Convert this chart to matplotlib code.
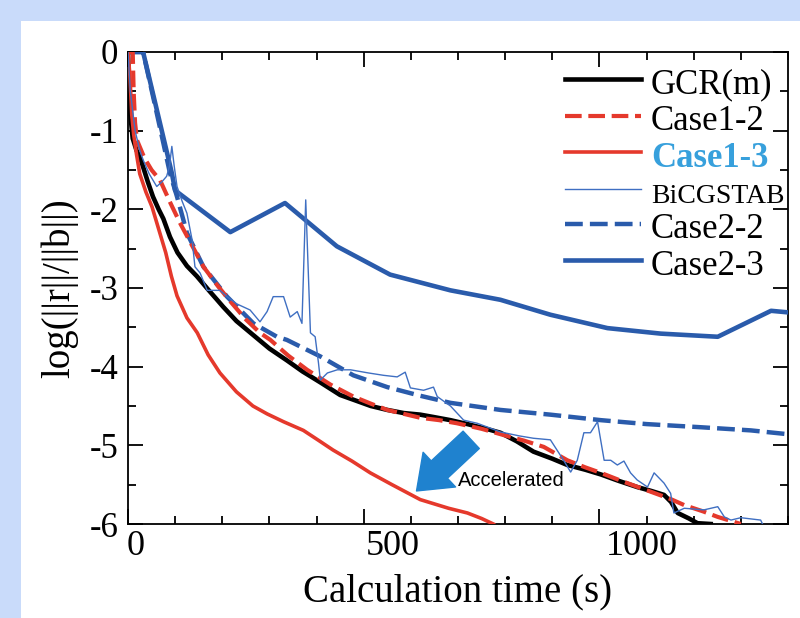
import matplotlib
matplotlib.use("Agg")
import matplotlib.pyplot as plt
from matplotlib.patches import Rectangle
from matplotlib.transforms import ScaledTranslation
from matplotlib.ticker import MultipleLocator

# ---- data (x: calculation time in s, y: log(||r||/||b||)) ----
gcr_x = [0, 2, 5, 10, 18, 25, 32, 42, 53, 65, 75, 89, 105, 125, 146, 170, 189, 202, 230, 266,
         300, 337, 370, 408, 450, 478, 515, 550, 585, 620, 648, 684, 720, 760, 790, 825, 860,
         900, 932, 970, 1003, 1040, 1080, 1110, 1137, 1152, 1166, 1190, 1208, 1236]
gcr_y = [0, -0.4, -0.8, -1.1, -1.25, -1.33, -1.46, -1.65, -1.84, -2.0, -2.12, -2.35, -2.55, -2.72,
         -2.85, -3.02, -3.15, -3.24, -3.42, -3.6, -3.77, -3.92, -4.06, -4.2, -4.36, -4.42, -4.5,
         -4.55, -4.59, -4.61, -4.64, -4.68, -4.73, -4.79, -4.84, -4.95, -5.08, -5.17, -5.25,
         -5.31, -5.37, -5.45, -5.53, -5.58, -5.63, -5.72, -5.86, -5.93, -5.99, -6.0]

case12_x = [0, 10, 12, 15, 19, 35, 50, 68, 90, 110, 135, 160, 190, 217, 250, 280, 302, 340, 380,
            430, 478, 515, 550, 585, 620, 660, 698, 750, 797, 840, 882, 932, 970, 1003, 1050,
            1109, 1150, 1180, 1220, 1251, 1300]
case12_y = [0, 0, -0.5, -0.9, -1.12, -1.35, -1.5, -1.63, -1.92, -2.17, -2.45, -2.73, -2.97, -3.17,
            -3.4, -3.57, -3.66, -3.86, -4.04, -4.23, -4.38, -4.47, -4.55, -4.6, -4.65, -4.68,
            -4.72, -4.79, -4.87, -4.94, -5.02, -5.19, -5.28, -5.35, -5.46, -5.59, -5.68, -5.76,
            -5.84, -5.91, -6.0]

case13_x = [0, 4, 8, 12, 18, 25, 38, 51, 65, 80, 92, 104, 125, 147, 170, 195, 230, 265, 295, 330,
            372, 405, 435, 475, 514, 560, 620, 680, 720, 750, 775]
case13_y = [0, -0.3, -0.8, -1.05, -1.3, -1.55, -1.78, -1.97, -2.25, -2.55, -2.85, -3.1, -3.38,
            -3.57, -3.85, -4.08, -4.32, -4.5, -4.6, -4.7, -4.81, -4.94, -5.06, -5.2, -5.35, -5.5,
            -5.69, -5.8, -5.86, -5.93, -6.0]

bicg_x = [0, 5, 15, 25, 32, 45, 61, 72, 82, 88, 93, 98, 104, 115, 125, 136, 142, 153, 168, 180,
          195, 210, 230, 259, 280, 295, 308, 330, 344, 359, 369, 377, 387, 397, 404, 408, 423,
          444, 472, 510, 542, 571, 588, 599, 627, 648, 656, 684, 712, 741, 790, 830, 860, 896,
          924, 939, 953, 967, 981, 996, 1010, 1024, 1038, 1052, 1066, 1080, 1102, 1116, 1137,
          1151, 1158, 1180, 1222, 1251, 1265, 1279, 1300, 1342, 1346]
bicg_y = [0, -0.5, -1.0, -1.25, -1.37, -1.55, -1.71, -1.65, -1.58, -1.45, -1.2, -1.45, -1.71,
          -1.9, -2.05, -2.39, -2.73, -2.81, -3.03, -3.03, -3.03, -3.11, -3.2, -3.28, -3.43, -3.3,
          -3.11, -3.11, -3.37, -3.3, -3.45, -1.88, -3.57, -3.62, -3.95, -4.17, -4.08, -4.04,
          -4.04, -4.08, -4.11, -4.13, -4.07, -4.27, -4.3, -4.26, -4.38, -4.5, -4.68, -4.72,
          -4.83, -4.88, -4.91, -4.93, -5.19, -5.34, -5.19, -4.84, -4.84, -4.70, -5.19, -5.19,
          -5.25, -5.2, -5.35, -5.44, -5.53, -5.35, -5.48, -5.61, -5.86, -5.80, -5.82, -5.78,
          -5.91, -5.95, -5.92, -5.95, -6.0]

case22_x = [0, 32, 60, 89, 104, 125, 160, 210, 266, 316, 337, 408, 478, 550, 620, 684, 790, 896,
            1003, 1100, 1215, 1321, 1402]
case22_y = [0, 0, -0.75, -1.54, -1.84, -2.3, -2.73, -3.11, -3.45, -3.62, -3.66, -3.87, -4.11,
            -4.26, -4.37, -4.46, -4.55, -4.61, -4.68, -4.73, -4.77, -4.81, -4.86]

case23_x = [0, 32, 93, 100, 217, 333, 443, 556, 684, 790, 896, 1017, 1130, 1251, 1364, 1400]
case23_y = [0, 0, -1.54, -1.76, -2.29, -1.92, -2.47, -2.83, -3.03, -3.15, -3.34, -3.51, -3.58,
            -3.62, -3.29, -3.31]

series_labels = ["GCR(m)", "Case1-2", "Case1-3", "BiCGSTAB", "Case2-2", "Case2-3"]
xtick_values = [0, 500, 1000]
xtick_labels = ["0", "500", "1000"]
ytick_values = [0, -1, -2, -3, -4, -5, -6]
ytick_labels = ["0", "-1", "-2", "-3", "-4", "-5", "-6"]
arrow_tail = (728, -4.93)
arrow_tip = (612, -5.58)

# ---- style ----
plt.rcParams["font.family"] = ["Liberation Serif", "DejaVu Serif"]
RED = "#e5392c"
BLUE = "#2a5bab"
THIN = "#3f6fc2"

fig = plt.figure(figsize=(8, 6.18), dpi=100, facecolor="#c9dbfa")
fig.add_artist(Rectangle((21 / 800, 0), 1, 1 - 21 / 618, transform=fig.transFigure,
                         facecolor="white", edgecolor="none", zorder=-5))

ax = fig.add_axes([0.16, 0.1521, 0.825, 0.7638])
ax.set_facecolor("white")

dash = (4, 1.6)
l_gcr, = ax.plot(gcr_x, gcr_y, color="black", lw=3.3, zorder=4, label=series_labels[0])
l_c12, = ax.plot(case12_x, case12_y, color=RED, lw=3.0, dashes=dash, zorder=5, label=series_labels[1])
l_c13, = ax.plot(case13_x, case13_y, color=RED, lw=2.6, zorder=5, label=series_labels[2])
l_bi, = ax.plot(bicg_x, bicg_y, color=THIN, lw=1.0, zorder=6, label=series_labels[3])
l_c22, = ax.plot(case22_x, case22_y, color=BLUE, lw=3.2, dashes=dash, zorder=3, label=series_labels[4])
l_c23, = ax.plot(case23_x, case23_y, color=BLUE, lw=3.3, zorder=3, label=series_labels[5])

ax.set_xlim(0, 1400)
ax.set_ylim(-6, 0)
ax.set_xticks(xtick_values)
ax.set_xticklabels(xtick_labels)
ax.set_yticks(ytick_values)
ax.set_yticklabels(ytick_labels)
ax.xaxis.set_minor_locator(MultipleLocator(100))
ax.yaxis.set_minor_locator(MultipleLocator(0.5))
ax.tick_params(which="both", direction="in", top=True, right=True, width=1.3, colors="black")
ax.tick_params(which="major", length=11)
ax.tick_params(which="minor", length=6)
ax.tick_params(axis="y", which="major", labelsize=25, pad=7)
ax.tick_params(axis="x", which="major", labelsize=26, pad=4)
for sp in ax.spines.values():
    sp.set_linewidth(1.3)

# x tick labels in the reference sit to the right of their ticks
offsets_px = [8, 29, 42]
for lab, dx in zip(ax.get_xticklabels(), offsets_px):
    lab.set_transform(lab.get_transform() + ScaledTranslation(dx / 100, 0, fig.dpi_scale_trans))

ax.set_xlabel("Calculation time (s)", fontsize=28)
ax.set_ylabel("log(||r||/||b||)", fontsize=28)
ax.xaxis.set_label_coords(0.5, -0.105)
ax.yaxis.set_label_coords(-0.076, 0.5)

leg = ax.legend(handles=[l_gcr, l_c12, l_c13, l_bi, l_c22, l_c23], loc="upper left",
                bbox_to_anchor=(0.662, 0.973), frameon=False, fontsize=25, borderpad=0,
                borderaxespad=0, handlelength=2.2, handletextpad=0.28, labelspacing=0.0,
                handleheight=1.12)
texts = leg.get_texts()
texts[2].set_color("#37a0dc")
texts[2].set_fontweight("bold")
texts[3].set_fontsize(20)

ax.annotate("", xy=arrow_tip, xytext=arrow_tail,
            arrowprops=dict(arrowstyle="simple,head_width=1.9,head_length=1.25,tail_width=0.95",
                            mutation_scale=18, color="#1f82cf", shrinkA=0, shrinkB=0),
            zorder=7)
ax.text(700, -5.45, "Accelerated", fontsize=14.5, family=["Liberation Sans", "DejaVu Sans"],
        va="center", ha="left", zorder=8)

fig.savefig("out.png", dpi=100, facecolor=fig.get_facecolor())
